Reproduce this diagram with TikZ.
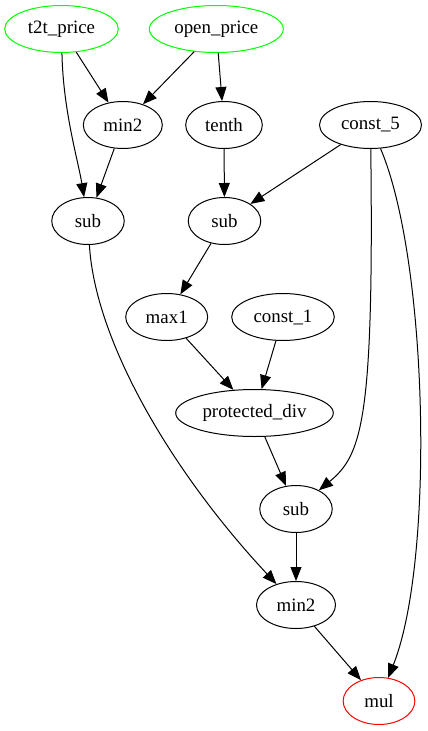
\documentclass[tikz,border=0pt]{standalone}
\usepackage{fontspec}
\setmainfont{Liberation Serif}
\usetikzlibrary{shapes.geometric,arrows.meta}
\definecolor{termgreen}{RGB}{0,255,0}
\definecolor{rootred}{RGB}{255,0,0}
\begin{document}
\begin{tikzpicture}[x=1pt,y=-1pt,
  op/.style={ellipse,draw,line width=1pt,inner sep=0pt,minimum height=47pt,
    font=\fontsize{18.9}{20}\selectfont},
  leaf/.style={op,draw=termgreen},
  root/.style={op,draw=rootred},
  edge/.style={line width=1pt,-{Triangle[length=14pt,width=11pt]}}]
\useasboundingbox (0,0) rectangle (428,731);
% operands
\node[leaf,minimum width=113.6pt] (t2t)  at (61.5,29)  {t2t\_price};
\node[leaf,minimum width=134pt]   (open) at (216.3,29) {open\_price};
% row 2
\node[op,minimum width=79pt]  (minA)   at (122.8,125) {min2};
\node[op,minimum width=76.6pt] (tenth) at (224,125)   {tenth};
\node[op,minimum width=102pt] (cfive)  at (370.5,125) {const\_5};
% row 3
\node[op,minimum width=72.5pt] (subA) at (88,221)    {sub};
\node[op,minimum width=72.5pt] (subB) at (224.5,221) {sub};
% row 4
\node[op,minimum width=82pt]    (maxone) at (166.7,317) {max1};
\node[op,minimum width=102.6pt] (cone)   at (283,317)   {const\_1};
% row 5
\node[op,minimum width=157.6pt] (pdiv) at (254.5,413) {protected\_div};
% row 6
\node[op,minimum width=72.5pt] (subC) at (296,509) {sub};
% row 7
\node[op,minimum width=79pt] (minB) at (296,605) {min2};
% result
\node[root,minimum width=71.7pt] (mul) at (379,701) {mul};

% connectors
\draw[edge] (t2t) .. controls (63,110) and (78,160) .. (subA);
\draw[edge] (t2t) -- (minA);
\draw[edge] (open) -- (minA);
\draw[edge] (open) -- (tenth);
\draw[edge] (minA) -- (subA);
\draw[edge] (tenth) -- (subB);
\draw[edge] (cfive) -- (subB);
\draw[edge] (cfive) .. controls (374,420) and (362,455) .. (subC);
\draw[edge] (cfive) .. controls (428,260) and (435,560) .. (mul);
\draw[edge] (subA) .. controls (95,340) and (170,470) .. (minB);
\draw[edge] (subB) -- (maxone);
\draw[edge] (maxone) -- (pdiv);
\draw[edge] (cone) -- (pdiv);
\draw[edge] (pdiv) -- (subC);
\draw[edge] (subC) -- (minB);
\draw[edge] (minB) -- (mul);
\end{tikzpicture}
\end{document}
